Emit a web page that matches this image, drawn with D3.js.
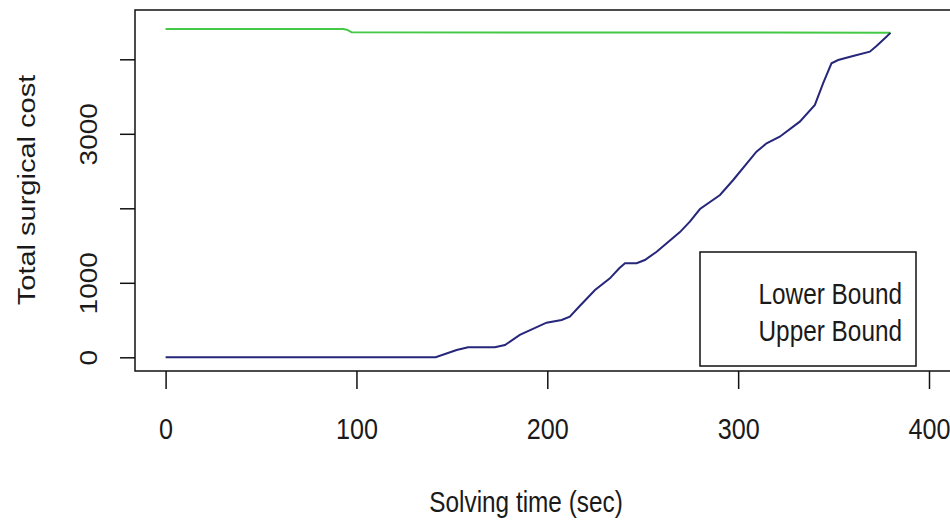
<!DOCTYPE html>
<meta charset="utf-8">
<script src="https://d3js.org/d3.v7.min.js"></script>
<style>
  body { margin: 0; background: #fff; }
  text { font-family: "Liberation Sans", Arial, sans-serif; fill: #1a1a1a; }
</style>
<div id="my_dataviz"></div>

<script>

// solving time (sec) and bound values
var lowerTime  = [0, 141.5, 152.5, 158.5, 172.5, 177.8, 185.6, 199.6, 207.5, 211.8, 217, 225, 232.8, 237.7,
                  240.7, 246.8, 251.1, 257.3, 269.5, 274.7, 280, 290.5, 297.4, 309.6, 314.9, 321.8, 332.3,
                  340.2, 344.5, 348.9, 352.4, 360.2, 369, 372.5, 377.7, 379.8];
var lowerValue = [0, 0, 98, 134, 134, 165, 300, 465, 500, 545, 689, 903, 1060, 1195,
                  1262, 1262, 1306, 1417, 1680, 1820, 1990, 2179, 2380, 2760, 2872, 2961, 3163,
                  3387, 3678, 3946, 3990, 4044, 4102, 4179, 4303, 4355];
var upperTime  = [0, 93, 95, 97.5, 379.8];
var upperValue = [4407, 4407, 4398, 4362, 4358];

var xTicks = [0, 100, 200, 300, 400];
var yTicks = [0, 1000, 2000, 3000, 4000];
var yTickLabels = ["0", "1000", "", "3000", ""];   // R drops the overlapping ones
var legendLabels = ["Lower Bound", "Upper Bound"];

var width = 950, height = 521;
var box = {left: 135, top: 10, bottom: 371};
var sx = 0.84;   // picture text is a bit condensed

var svg = d3.select("#my_dataviz")
  .append("svg")
    .attr("width", width)
    .attr("height", height);

var x = d3.scaleLinear().domain([0, 400]).range([165.6, 929]);
var y = d3.scaleLinear().domain([0, 4000]).range([357.3, 59.3]);

// plot box (right side runs off the picture)
svg.append("rect")
  .attr("x", box.left)
  .attr("y", box.top)
  .attr("width", 900)
  .attr("height", box.bottom - box.top)
  .attr("fill", "none")
  .attr("stroke", "#111")
  .attr("stroke-width", 1.5);

// X axis
var xAxis = svg.append("g")
  .attr("transform", "translate(0," + box.bottom + ")")
  .call(d3.axisBottom(x).tickValues(xTicks).tickSize(18).tickFormat(d3.format("d")));
xAxis.select(".domain").remove();
xAxis.selectAll(".tick line").attr("stroke", "#111").attr("stroke-width", 1.5);
xAxis.selectAll(".tick text")
  .attr("y", 0).attr("dy", null)
  .attr("transform", "translate(0,68) scale(" + sx + ",1)")
  .style("font-size", "30px");

svg.append("text")
  .attr("text-anchor", "middle")
  .attr("transform", "translate(526,512) scale(" + sx + ",1)")
  .style("font-size", "29px")
  .text("Solving time (sec)");

// Y axis
var yAxis = svg.append("g")
  .attr("transform", "translate(" + box.left + ",0)")
  .call(d3.axisLeft(y).tickValues(yTicks).tickSize(15).tickFormat(""));
yAxis.select(".domain").remove();
yAxis.selectAll(".tick line").attr("stroke", "#111").attr("stroke-width", 1.5);
yAxis.selectAll(".tick text").remove();
yAxis.selectAll(".tick")
  .append("text")
    .attr("text-anchor", "middle")
    .attr("transform", "translate(-38,0) rotate(-90) scale(1," + sx + ")")
    .style("font-size", "28px")
    .text(function(d, i) { return yTickLabels[i]; });

svg.append("text")
  .attr("text-anchor", "middle")
  .attr("transform", "translate(35,190) rotate(-90) scale(1," + sx + ")")
  .style("font-size", "29px")
  .text("Total surgical cost");

// lines
var lowerData = lowerTime.map(function(t, i) { return {t: t, v: lowerValue[i]}; });
var upperData = upperTime.map(function(t, i) { return {t: t, v: upperValue[i]}; });

var line = d3.line()
  .x(function(d) { return x(d.t); })
  .y(function(d) { return y(d.v); });

svg.append("path")
  .datum(upperData)
  .attr("d", line)
  .attr("fill", "none")
  .attr("stroke", "#45c845")
  .attr("stroke-width", 2);

svg.append("path")
  .datum(lowerData)
  .attr("d", line)
  .attr("fill", "none")
  .attr("stroke", "#26267a")
  .attr("stroke-width", 2);

// legend (text only, no swatches)
svg.append("rect")
  .attr("x", 700)
  .attr("y", 252)
  .attr("width", 216)
  .attr("height", 114)
  .attr("fill", "#fff")
  .attr("stroke", "#111")
  .attr("stroke-width", 1.5);

svg.selectAll(".legendText")
  .data(legendLabels)
  .enter()
  .append("text")
    .attr("class", "legendText")
    .attr("text-anchor", "end")
    .attr("transform", function(d, i) { return "translate(902," + (304 + i * 36.7) + ") scale(" + sx + ",1)"; })
    .style("font-size", "29px")
    .text(function(d) { return d; });

</script>
